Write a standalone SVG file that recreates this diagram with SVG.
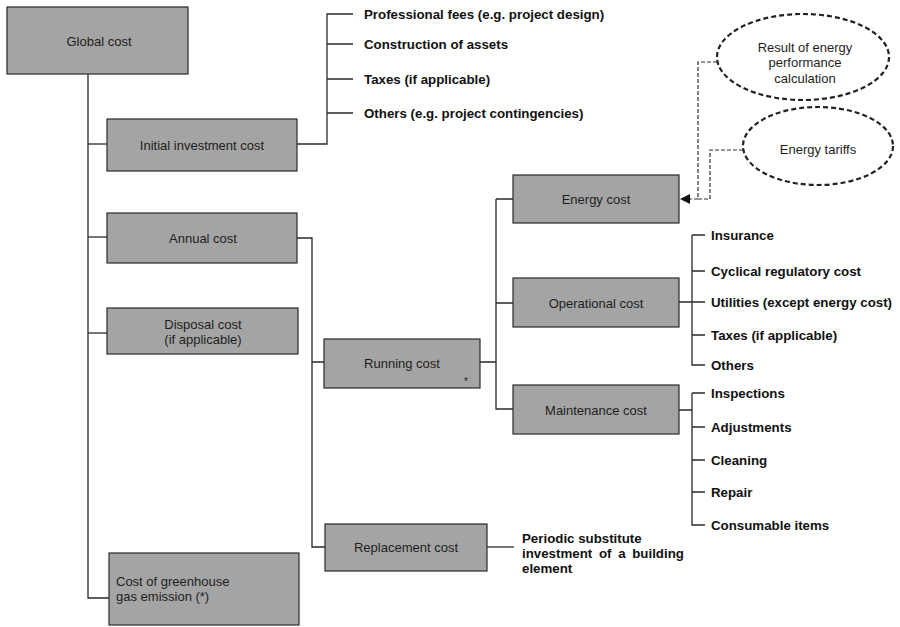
<svg xmlns="http://www.w3.org/2000/svg" width="900" height="627" viewBox="0 0 900 627">
<defs>
<style>
.box{fill:#a4a4a4;stroke:#2a2a2a;stroke-width:1.2}
.nt{font-family:"Liberation Sans",Arial,sans-serif;font-size:13px;fill:#1e1e1e;text-anchor:middle;dominant-baseline:central}
.lt{font-family:"Liberation Sans",Arial,sans-serif;font-size:13.3px;font-weight:bold;fill:#111;dominant-baseline:central}
.et{font-family:"Liberation Sans",Arial,sans-serif;font-size:13px;fill:#1e1e1e;text-anchor:middle;dominant-baseline:central}
.ln{fill:none;stroke:#2a2a2a;stroke-width:1.3}
.dl{fill:none;stroke:#333;stroke-width:1.2;stroke-dasharray:4 2}
.ell{fill:#fff;stroke:#222;stroke-width:2.2;stroke-dasharray:5 3}
</style>
<marker id="arr" viewBox="0 0 10 10" refX="9" refY="5" markerWidth="10" markerHeight="10" markerUnits="userSpaceOnUse" orient="auto">
<path d="M0,0 L10,5 L0,10 z" fill="#111"/>
</marker>
</defs>
<rect width="900" height="627" fill="#fff"/>

<g id="connectors">
<path class="ln" d="M88,74 V598 H109"/>
<path class="ln" d="M88,144 H107"/>
<path class="ln" d="M88,237 H107"/>
<path class="ln" d="M88,333 H107"/>
<path class="ln" d="M297,144 H327 V14 H353 M327,44 H353 M327,79 H353 M327,113 H353"/>
<path class="ln" d="M297,238 H312 V547 H325 M312,362 H324"/>
<path class="ln" d="M480,362 H496 M496,199 V409 H513 M496,199 H513 M496,303 H513"/>
<path class="ln" d="M487,547 H514"/>
<path class="ln" d="M679,302 H692 M692,235 V365 H705 M692,235 H705 M692,271 H705 M692,302 H705 M692,335 H705"/>
<path class="ln" d="M679,410 H692 M692,393 V525 H705 M692,393 H705 M692,427 H705 M692,460 H705 M692,492 H705"/>
<path class="dl" d="M717,62 H698 V199 H681" marker-end="url(#arr)"/>
<path class="dl" d="M743,150 H710 V199 H698"/>
</g>

<g id="global"><rect class="box" x="7" y="7" width="181" height="67"/><text class="nt" x="99" y="41">Global cost</text></g>
<g id="initial"><rect class="box" x="107" y="119" width="190" height="52"/><text class="nt" x="202" y="145">Initial investment cost</text></g>
<g id="annual"><rect class="box" x="107" y="213" width="190" height="50"/><text class="nt" x="203" y="238">Annual cost</text></g>
<g id="disposal"><rect class="box" x="107" y="308" width="191" height="46"/><text class="nt" x="203" y="324">Disposal cost</text><text class="nt" x="203" y="339">(if applicable)</text></g>
<g id="greenhouse"><rect class="box" x="109" y="553" width="190" height="72"/><text class="nt" x="116" y="581" style="text-anchor:start">Cost of greenhouse</text><text class="nt" x="116" y="596" style="text-anchor:start">gas emission (*)</text></g>
<g id="running"><rect class="box" x="324" y="339" width="156" height="49"/><text class="nt" x="402" y="363">Running cost</text><text class="nt" x="466" y="381" style="font-size:10px">*</text></g>
<g id="replacement"><rect class="box" x="325" y="524" width="162" height="47"/><text class="nt" x="406" y="547">Replacement cost</text></g>
<g id="energy"><rect class="box" x="513" y="175" width="166" height="48"/><text class="nt" x="596" y="199">Energy cost</text></g>
<g id="operational"><rect class="box" x="513" y="278" width="166" height="49"/><text class="nt" x="596" y="303">Operational cost</text></g>
<g id="maintenance"><rect class="box" x="513" y="385" width="166" height="49"/><text class="nt" x="596" y="410">Maintenance cost</text></g>

<g id="result"><ellipse class="ell" cx="803" cy="57" rx="86" ry="43"/><text class="et" x="805" y="47">Result of energy</text><text class="et" x="805" y="62">performance</text><text class="et" x="805" y="78">calculation</text></g>
<g id="tariffs"><ellipse class="ell" cx="818" cy="146" rx="75" ry="39"/><text class="et" x="818" y="149">Energy tariffs</text></g>

<g id="initial-items">
<text class="lt" x="364" y="14">Professional fees (e.g. project design)</text>
<text class="lt" x="364" y="44">Construction of assets</text>
<text class="lt" x="364" y="79">Taxes (if applicable)</text>
<text class="lt" x="364" y="113">Others (e.g. project contingencies)</text>
</g>
<g id="operational-items">
<text class="lt" x="711" y="235">Insurance</text>
<text class="lt" x="711" y="271">Cyclical regulatory cost</text>
<text class="lt" x="711" y="302">Utilities (except energy cost)</text>
<text class="lt" x="711" y="335">Taxes (if applicable)</text>
<text class="lt" x="711" y="365">Others</text>
</g>
<g id="maintenance-items">
<text class="lt" x="711" y="393">Inspections</text>
<text class="lt" x="711" y="427">Adjustments</text>
<text class="lt" x="711" y="460">Cleaning</text>
<text class="lt" x="711" y="492">Repair</text>
<text class="lt" x="711" y="525">Consumable items</text>
</g>
<g id="replacement-item">
<text class="lt" x="522" y="538">Periodic substitute</text>
<text class="lt" x="522" y="553" style="word-spacing:3px">investment of a building</text>
<text class="lt" x="522" y="568">element</text>
</g>
</svg>
